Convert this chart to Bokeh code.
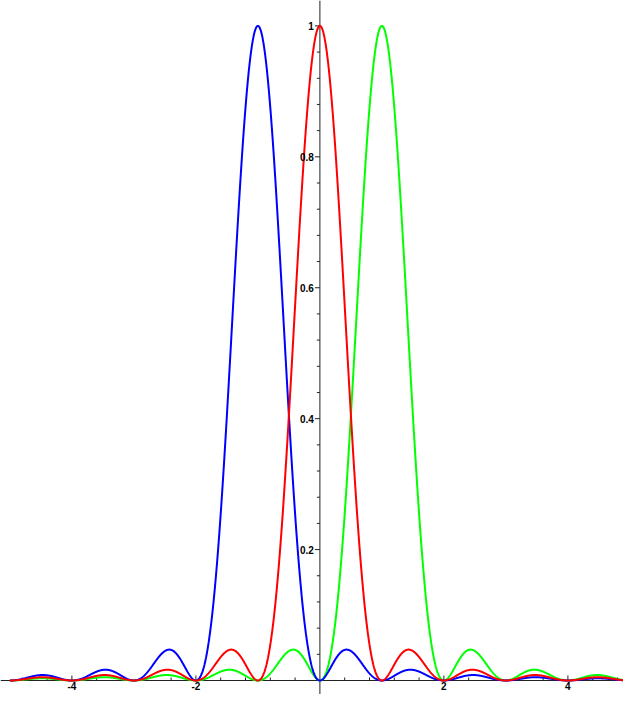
import numpy as np
from bokeh.plotting import figure
from bokeh.models import Span, Range1d
from bokeh.core.properties import value
from bokeh.embed import file_html
from bokeh.resources import INLINE

# ---- data: three sinc^2 diffraction curves, shifted by one unit each ----
centers = [0, -1, 1]                      # red, blue, green peak positions
colors = ["#ff0000", "#0000ff", "#00ff00"]
draw_order = [2, 1, 0]                    # green, blue, red (red on top)
x_domain = [-5.0, 5.0]

x_major_ticks = [-4, -2, 2, 4]
x_major_labels = ["-4", "-2", "2", "4"]
y_major_ticks = [0.2, 0.4, 0.6, 0.8, 1.0]
y_major_labels = ["0.2", "0.4", "0.6", "0.8", "1"]
x_minor_step = 0.4
y_minor_step = 0.04

# ---- layout (pixel geometry of the reference, scaled to fit the window) ----
W, H = 623, 694
px_per_x = 62.0
x0_px = 319.4          # x = 0 inside the frame
y0_px = 680.0          # y = 0 measured from frame top
y1_px = 25.4           # y = 1 measured from frame top
px_per_y = y0_px - y1_px

x_start = -x0_px / px_per_x
x_end = (W - x0_px) / px_per_x
y_end = y0_px / px_per_y
y_start = -(H - y0_px) / px_per_y

p = figure(width=W, height=H, x_range=Range1d(x_start, x_end),
           y_range=Range1d(y_start, y_end), x_axis_type=None, y_axis_type=None,
           output_backend="svg", toolbar_location=None, min_border=0)
p.grid.visible = False
p.outline_line_color = None
p.background_fill_color = "white"

axis_col = "#222222"
p.add_layout(Span(location=0, dimension="width", line_color=axis_col, line_width=1, level="underlay"))
p.add_layout(Span(location=0, dimension="height", line_color=axis_col, line_width=1, level="underlay"))

# x ticks (pointing up into the plot)
x_minor = [round(v, 2) for v in np.arange(-4.8, 4.81, x_minor_step)]
x_minor = [v for v in x_minor if abs(v) > 1e-9 and all(abs(v - t) > 1e-6 for t in x_major_ticks)]
p.segment(x0=x_minor, y0=[0] * len(x_minor), x1=x_minor, y1=[3 / px_per_y] * len(x_minor),
          line_color=axis_col, line_width=1)
p.segment(x0=x_major_ticks, y0=[0] * 4, x1=x_major_ticks, y1=[5 / px_per_y] * 4,
          line_color=axis_col, line_width=1)

# y ticks (pointing left of the axis)
y_minor = [round(v, 3) for v in np.arange(y_minor_step, 1.0001, y_minor_step)]
y_minor = [v for v in y_minor if all(abs(v - t) > 1e-6 for t in y_major_ticks)]
p.segment(x0=[-3 / px_per_x] * len(y_minor), y0=y_minor, x1=[0] * len(y_minor), y1=y_minor,
          line_color=axis_col, line_width=1)
p.segment(x0=[-5 / px_per_x] * len(y_major_ticks), y0=y_major_ticks,
          x1=[0] * len(y_major_ticks), y1=y_major_ticks, line_color=axis_col, line_width=1)

# curves
xs = np.linspace(x_domain[0], x_domain[1], 2001)
for i in draw_order:
    ys = np.sinc(xs - centers[i]) ** 2
    p.line(xs, ys, line_color=colors[i], line_width=2)

font = value("Liberation Sans")
p.text(x=[0] * len(y_major_ticks), y=y_major_ticks, text=y_major_labels, x_offset=-6,
       text_align="right", text_baseline="middle", text_font=font,
       text_font_style="bold", text_font_size="10px", text_color="black")
p.text(x=x_major_ticks, y=[0] * 4, text=x_major_labels, y_offset=1,
       text_align="center", text_baseline="top", text_font=font,
       text_font_style="bold", text_font_size="10px", text_color="black")

open("out.html", "w").write(file_html(p, INLINE))
